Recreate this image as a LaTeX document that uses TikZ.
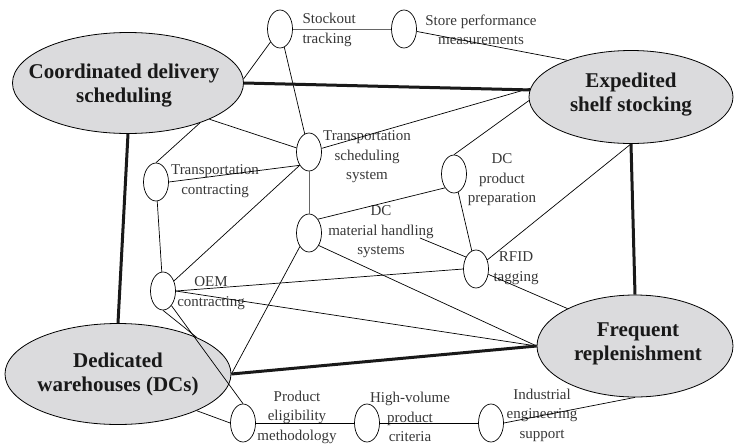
\documentclass[tikz,border=0pt]{standalone}
\usepackage{fontspec}
\setmainfont{Liberation Serif}
\usetikzlibrary{shapes.geometric}
\definecolor{hubgray}{RGB}{219,219,221}
\definecolor{inkgray}{RGB}{55,55,55}

\begin{document}
\begin{tikzpicture}[x=1pt, y=-1pt,
    hub/.style={draw, ellipse, fill=hubgray, line width=0.8pt, inner sep=0pt},
    leaf/.style={draw, ellipse, fill=white, line width=0.7pt, inner sep=0pt, minimum width=25pt, minimum height=38pt},
    hubtxt/.style={font=\fontsize{21}{24}\selectfont\bfseries, text=black!90, align=center},
    sub/.style={font=\fontsize{15}{19.5}\selectfont, text=inkgray, align=center},
    tie/.style={line width=0.7pt, black},
    spine/.style={line width=3pt, black!90},
]
\useasboundingbox (0,0) rectangle (734,445);

% Hubs
\node[hub, minimum width=231pt, minimum height=101pt] (cds) at (128,83) {};
\node[hub, minimum width=204pt, minimum height=93pt] (ess) at (631,97) {};
\node[hub, minimum width=226pt, minimum height=101pt] (dw) at (118,374) {};
\node[hub, minimum width=196pt, minimum height=102pt] (fr) at (635,346) {};
\node[hubtxt] (cdstxt) at (124,86) {Coordinated delivery\\scheduling};
\node[hubtxt] (esstxt) at (631,95) {Expedited\\shelf stocking};
\node[hubtxt] (dwtxt) at (118,374) {Dedicated\\warehouses (DCs)};
\node[hubtxt] (frtxt) at (638,344) {Frequent\\replenishment};

% Practices
\node[leaf] (st) at (280,29) {};
\node[leaf] (sp) at (404,29) {};
\node[leaf] (tss) at (309,152) {};
\node[leaf] (dcp) at (454,174) {};
\node[leaf] (dcm) at (309,233) {};
\node[leaf] (rfid) at (476,269) {};
\node[leaf] (tc) at (156,182) {};
\node[leaf] (oem) at (163,291) {};
\node[leaf] (pem) at (243,423) {};
\node[leaf] (hvp) at (367,423) {};
\node[leaf] (ies) at (491,423) {};
\node[sub, align=left, anchor=west] (sttxt) at (299,30) {Stockout\\tracking};
\node[sub] (sptxt) at (481,30) {Store performance\\measurements};
\node[sub] (tsstxt) at (367,157) {Transportation\\scheduling\\system};
\node[sub] (dcptxt) at (502,180) {DC\\product\\preparation};
\node[sub] (dcmtxt) at (381,232) {DC\\material handling\\systems};
\node[sub] (rfidtxt) at (516,268) {RFID\\tagging};
\node[sub] (tctxt) at (215,181) {Transportation\\contracting};
\node[sub] (oemtxt) at (211,293) {OEM\\contracting};
\node[sub] (pemtxt) at (297,417) {Product\\eligibility\\methodology};
\node[sub] (hvptxt) at (410,417) {High-volume\\product\\criteria};
\node[sub] (iestxt) at (542,415) {Industrial\\engineering\\support};
\coordinate (hdl) at (420,238);

% Practice links
\draw[tie, black!60] (st) -- (sp);
\draw[tie] (sp) -- (ess.150);
\draw[tie] (st) -- (cds.2);
\draw[tie] (st) -- (tss);
\draw[tie] (cds.-24) -- (tss);
\draw[tie] (cds.-29) -- (tc.north);
\draw[tie] (tc.east) -- (tss.235);
\draw[tie] (tc) -- (oem);
\draw[tie] (tss.235) -- (oem);
\draw[tie] (tss) -- (ess.175);
\draw[tie, black!60] (tss) -- (dcm);
\draw[tie] (dcp.north) -- (ess.182);
\draw[tie] (dcm.57) -- (dcp.237);
\draw[tie] (dcp) -- (rfid);
\draw[tie] (rfid) -- (ess.south);
\draw[tie] (hdl) -- (rfid.130);
\draw[tie] (dcm.-52) -- (fr.west);
\draw[tie] (dcm.236) -- (dw.east);
\draw[tie] (oem.east) -- (rfid.west);
\draw[tie] (oem.east) -- (fr.west);
\draw[tie] (oem.south) -- (dw.25);
\draw[tie] (oem.-60) -- (pem.north);
\draw[tie] (dw.-25) -- (pem.west);
\draw[tie] (pem) -- (hvp);
\draw[tie] (hvp) -- (ies);
\draw[tie] (ies.east) -- (fr.south);
\draw[tie] (rfid) -- (fr.151);

% Hub links
\draw[spine] (cds.east) -- (ess.176);
\draw[spine] (cds.south) -- (dw.north);
\draw[spine] (ess.south) -- (fr.north);
\draw[spine] (dw.east) -- (fr.west);
\end{tikzpicture}
\end{document}
